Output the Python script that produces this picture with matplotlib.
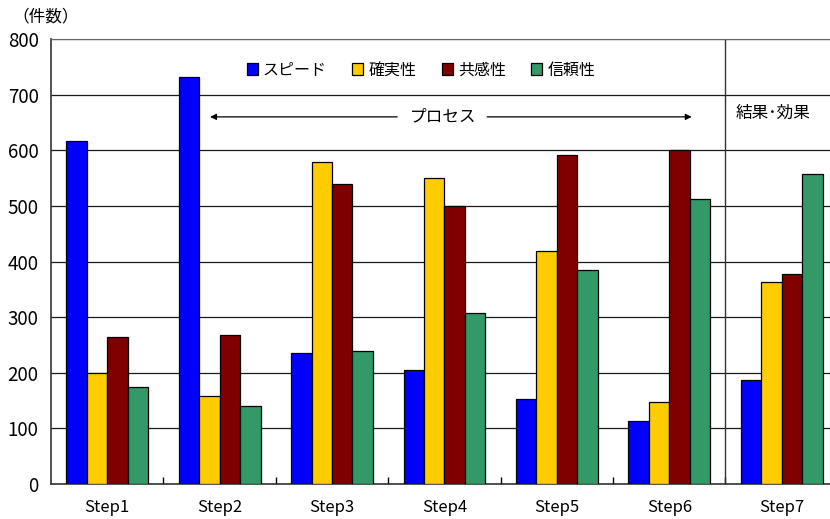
import matplotlib
matplotlib.use("Agg")
import matplotlib.pyplot as plt
import numpy as np

plt.rcParams['font.family'] = ['Noto Sans CJK JP', 'DejaVu Sans']

steps = ["Step1", "Step2", "Step3", "Step4", "Step5", "Step6", "Step7"]
series_names = ["スピード", "確実性", "共感性", "信頼性"]
speed = [616, 731, 236, 205, 153, 113, 187]
certainty = [200, 158, 578, 550, 419, 148, 364]
empathy = [265, 268, 539, 500, 591, 600, 377]
trust = [174, 141, 240, 307, 385, 512, 558]
colors = ["#0000FF", "#FFCC00", "#800000", "#339966"]
yticks = [0, 100, 200, 300, 400, 500, 600, 700, 800]

W, H = 830, 519
fig = plt.figure(figsize=(W / 100, H / 100), dpi=100)
ax = fig.add_axes([51 / W, 35 / H, 779 / W, 445 / H])

x = np.arange(len(steps))
bw = 0.182
values = [speed, certainty, empathy, trust]
for i, (vals, c, name) in enumerate(zip(values, colors, series_names)):
    ax.bar(x + (i - 1.5) * bw, vals, width=bw, color=c, edgecolor="black",
           linewidth=0.9, label=name, zorder=3)

ax.set_xlim(-0.5, 6.43)
ax.set_ylim(0, 800)
ax.set_yticks(yticks)
ax.set_yticklabels([str(v) for v in yticks], fontsize=13.5)
ax.set_xticks(x)
ax.set_xticklabels(steps, fontsize=12)
ax.set_xticks(np.arange(0.5, 6.5, 1), minor=True)
ax.tick_params(axis="x", which="major", length=0, pad=11)
ax.tick_params(axis="x", which="minor", direction="in", length=5, width=1)
ax.tick_params(axis="y", length=0, pad=9)

ax.yaxis.grid(True, color="#1a1a1a", linewidth=0.9, zorder=0)
ax.spines["right"].set_visible(False)
ax.spines["top"].set_color("#666666")
ax.spines["left"].set_color("#333333")
ax.spines["bottom"].set_color("#333333")
ax.spines["left"].set_linewidth(1.2)
ax.spines["bottom"].set_linewidth(1.2)

# divider between process steps and results
ax.axvline(5.5, color="#333333", linewidth=1.0, zorder=2)

# process arrow
ax.annotate("", xy=(0.915, 660), xytext=(2.58, 660),
            arrowprops=dict(arrowstyle="-|>", color="black", lw=0.9,
                            mutation_scale=9, shrinkA=0, shrinkB=0))
ax.annotate("", xy=(5.20, 660), xytext=(3.38, 660),
            arrowprops=dict(arrowstyle="-|>", color="black", lw=0.9,
                            mutation_scale=9, shrinkA=0, shrinkB=0))
ax.text(2.99, 660, "プロセス", ha="center", va="center", fontsize=12)
ax.text(5.92, 667, "結果･効果", ha="center", va="center", fontsize=12)

fig.text(12 / W, 1 - 17 / H, "（件数）", ha="left", va="center", fontsize=12)

leg = ax.legend(loc="center", bbox_to_anchor=(421 / W, 1 - 70 / H),
                bbox_transform=fig.transFigure, ncol=4, frameon=False,
                fontsize=11.5, handlelength=0.7, handleheight=0.7,
                handletextpad=0.3, columnspacing=1.6, borderpad=0.2)

fig.savefig("out.png", dpi=100)
